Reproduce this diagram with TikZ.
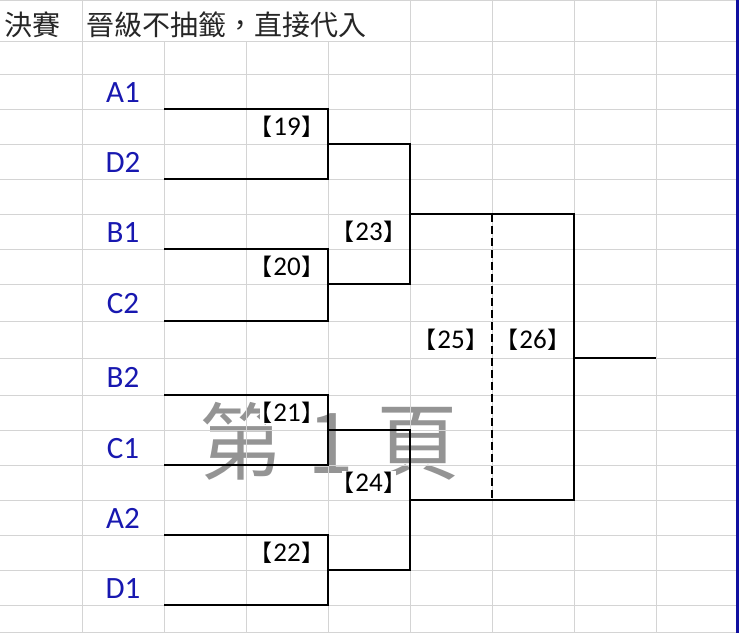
\documentclass[tikz,border=0pt]{standalone}
\usepackage{fontspec}
\setmainfont{Carlito}
\newfontfamily\cjk{Noto Sans CJK TC}
\newfontfamily\cjkp[RawFeature=+palt]{Noto Sans CJK TC}
\definecolor{gridgray}{RGB}{212,212,212}
\definecolor{teamblue}{RGB}{24,24,176}
\definecolor{wmgray}{RGB}{148,148,148}
\definecolor{titlegray}{RGB}{38,38,38}
\definecolor{barblue}{RGB}{16,16,160}
\newcommand{\mlab}[1]{{\cjkp\fontsize{23}{23}\selectfont 【}\kern1pt#1\kern1pt{\cjkp\fontsize{23}{23}\selectfont 】}}
\begin{document}
\begin{tikzpicture}[x=1pt,y=-1pt,
 gridline/.style={gridgray,line width=1pt},
 teamlabel/.style={anchor=base,inner sep=0pt,text=teamblue,font=\fontsize{31}{31}\selectfont},
 matchlabel/.style={anchor=base,inner sep=1pt,fill=white,text=black,font=\fontsize{27}{27}\selectfont},
 bracketline/.style={black,line width=1.2pt},
 wmtext/.style={anchor=base,inner sep=0pt,text=wmgray,font=\cjk\fontsize{84}{84}\selectfont},
 titletext/.style={anchor=base west,inner sep=0pt,text=titlegray,font=\cjk\fontsize{28}{28}\selectfont}]
\useasboundingbox (0,0) rectangle (739,633);
\fill[white] (0,0) rectangle (739,633);
% watermark
\node[wmtext] (wm1) at (241,473) {第};
\node[wmtext] (wm2) at (331,473) {1};
\node[wmtext] (wm3) at (417,473) {頁};
% grid
\foreach \y in {0.5,41,74,109,144,179,214,249,284,321,358,395,430,465,500,535,570,605,632}
  \draw[gridline] (0,\y) -- (736,\y);
\foreach \x in {82,410,492,574,656}
  \draw[gridline] (\x,0) -- (\x,633);
\foreach \x in {164,246,328}
  \draw[gridline] (\x,41) -- (\x,633);
\fill[barblue] (736,0) rectangle (739,633);
% title
\node[titletext] (t1) at (4,35) {決賽};
\node[titletext] (t2) at (87,35) {\kern-1pt 晉級不抽籤，直接代入};
% teams
\node[teamlabel] (A1) at (123,102) {A1};
\node[teamlabel] (D2) at (123,172) {D2};
\node[teamlabel] (B1) at (123,242) {B1};
\node[teamlabel] (C2) at (123,313) {C2};
\node[teamlabel] (B2) at (123,387) {B2};
\node[teamlabel] (C1) at (123,458) {C1};
\node[teamlabel] (A2) at (123,528) {A2};
\node[teamlabel] (D1) at (123,598) {D1};
% bracket coordinates
\coordinate (s1) at (164,109);
\coordinate (s2) at (164,179);
\coordinate (s3) at (164,249);
\coordinate (s4) at (164,321);
\coordinate (s5) at (164,395);
\coordinate (s6) at (164,465);
\coordinate (s7) at (164,535);
\coordinate (s8) at (164,605);
\coordinate (m19) at (328,144);
\coordinate (m20) at (328,284);
\coordinate (m21) at (328,430);
\coordinate (m22) at (328,570);
\coordinate (m23) at (410,214);
\coordinate (m24) at (410,500);
\coordinate (m26) at (574,358);
\coordinate (win) at (656,358);
\coordinate (d1) at (492,214);
\coordinate (d2) at (492,500);
% brackets
\draw[bracketline] (s1) -| (m19) |- (s2);
\draw[bracketline] (s3) -| (m20) |- (s4);
\draw[bracketline] (s5) -| (m21) |- (s6);
\draw[bracketline] (s7) -| (m22) |- (s8);
\draw[bracketline] (m19) -| (m23) |- (m20);
\draw[bracketline] (m21) -| (m24) |- (m22);
\draw[bracketline] (m23) -| (m26) |- (m24);
\draw[bracketline] (m26) -- (win);
\draw[black,line width=2.6pt,dash pattern=on 8pt off 4pt] (d1) -- (d2);
% match labels
\node[matchlabel] (n19) at (287,135) {\mlab{19}};
\node[matchlabel] (n20) at (287,275) {\mlab{20}};
\node[matchlabel] (n21) at (287,421) {\mlab{21}};
\node[matchlabel] (n22) at (287,561) {\mlab{22}};
\node[matchlabel] (n23) at (369,240) {\mlab{23}};
\node[matchlabel] (n24) at (369,491) {\mlab{24}};
\node[matchlabel] (n25) at (451,348) {\mlab{25}};
\node[matchlabel] (n26) at (533,348) {\mlab{26}};
\end{tikzpicture}
\end{document}
